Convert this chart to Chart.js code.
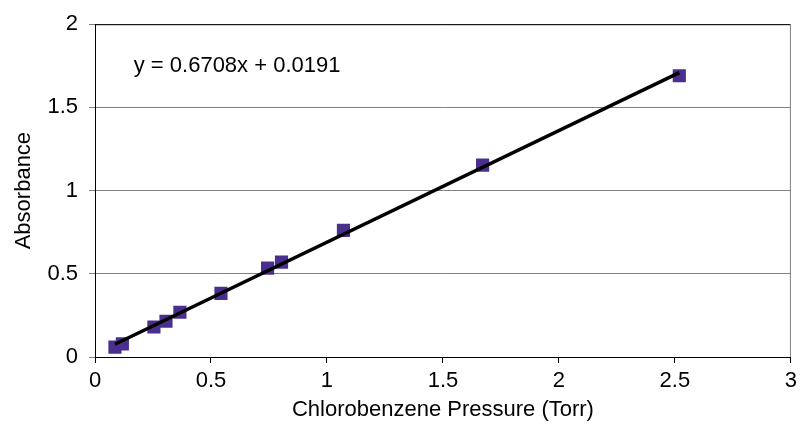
<!DOCTYPE html>
<html>
<head>
<meta charset="utf-8">
<title>Absorbance vs Chlorobenzene Pressure</title>
<script src="https://cdn.jsdelivr.net/npm/chart.js@4.4.1/dist/chart.umd.min.js"></script>
<style>
  html, body { margin: 0; padding: 0; background: #fff; }
  #wrap { width: 802px; height: 427px; position: relative; }
</style>
</head>
<body>
<div id="wrap"><canvas id="chart"></canvas></div>
<script>
// measured points
const pressure = [0.086, 0.118, 0.254, 0.306, 0.366, 0.543, 0.744, 0.804, 1.071, 1.671, 2.519];
const absorbance = [0.059, 0.079, 0.180, 0.215, 0.269, 0.382, 0.534, 0.570, 0.761, 1.153, 1.690];

// linear fit y = slope * x + intercept
const slope = 0.6708;
const intercept = 0.0191;

const xTicks = [0, 0.5, 1, 1.5, 2, 2.5, 3];
const yTicks = [0, 0.5, 1, 1.5, 2];

const FONT = 'Liberation Sans, Arial, sans-serif';
const FONT_SIZE = 22;

const points = pressure.map((p, i) => ({ x: p, y: absorbance[i] }));
const xMin = Math.min(...pressure), xMax = Math.max(...pressure);
const fitLine = [xMin, xMax].map(x => ({ x: x, y: slope * x + intercept }));

// frame on top/right + equation text
const framePlugin = {
    id: 'frame',
    beforeDatasetsDraw(chart) {
        const { ctx, chartArea: a } = chart;
        ctx.save();
        ctx.lineWidth = 1;
        ctx.strokeStyle = '#000';
        ctx.beginPath();
        ctx.moveTo(a.left, a.top + 0.5);
        ctx.lineTo(a.right, a.top + 0.5);
        ctx.stroke();
        ctx.strokeStyle = '#808080';
        ctx.beginPath();
        ctx.moveTo(a.right - 0.5, a.top);
        ctx.lineTo(a.right - 0.5, a.bottom);
        ctx.stroke();
        ctx.restore();
    },
    afterDraw(chart) {
        const { ctx, scales } = chart;
        const txt = 'y = ' + slope.toFixed(4) + 'x + ' + intercept.toFixed(4);
        ctx.save();
        ctx.font = FONT_SIZE + 'px ' + FONT;
        ctx.fillStyle = '#000';
        ctx.textAlign = 'left';
        ctx.textBaseline = 'middle';
        ctx.fillText(txt, scales.x.getPixelForValue(0.167), scales.y.getPixelForValue(1.75));
        ctx.restore();
    }
};

const plain = v => String(v);

new Chart(document.getElementById('chart'), {
    type: 'scatter',
    data: {
        datasets: [
            {
                type: 'line',
                label: 'Linear fit',
                data: fitLine,
                borderColor: '#000',
                borderWidth: 3.5,
                pointRadius: 0,
                fill: false,
                order: 0
            },
            {
                label: 'Absorbance',
                data: points,
                pointStyle: 'rect',
                pointRadius: 9.3,
                pointBorderWidth: 0,
                backgroundColor: '#4b2f8f',
                borderColor: '#4b2f8f',
                order: 1
            }
        ]
    },
    options: {
        responsive: true,
        maintainAspectRatio: false,
        animation: false,
        layout: { padding: { top: 20, right: 9, left: 0, bottom: 0 } },
        plugins: {
            legend: { display: false },
            tooltip: { enabled: false }
        },
        scales: {
            x: {
                type: 'linear',
                min: 0,
                max: 3,
                afterFit: s => { s.height = 70; },
                afterBuildTicks: s => { s.ticks = xTicks.map(v => ({ value: v })); },
                grid: { drawOnChartArea: false, drawTicks: true, tickLength: 6, color: '#000' },
                border: { display: true, color: '#000', width: 1 },
                ticks: { color: '#000', padding: 5, maxRotation: 0, callback: plain, font: { family: FONT, size: FONT_SIZE } },
                title: {
                    display: true,
                    text: 'Chlorobenzene Pressure (Torr)',
                    color: '#000',
                    font: { family: FONT, size: FONT_SIZE },
                    padding: { top: 0, bottom: 4 }
                }
            },
            y: {
                type: 'linear',
                min: 0,
                max: 2,
                afterFit: s => { s.width = 95; },
                afterBuildTicks: s => { s.ticks = yTicks.map(v => ({ value: v })); },
                grid: { drawOnChartArea: true, drawTicks: true, tickLength: 6, color: '#808080' },
                border: { display: true, color: '#000', width: 1 },
                ticks: { color: '#000', padding: 11, callback: plain, font: { family: FONT, size: FONT_SIZE } },
                title: {
                    display: true,
                    text: 'Absorbance',
                    color: '#000',
                    font: { family: FONT, size: FONT_SIZE },
                    padding: { top: 11, bottom: 0 }
                }
            }
        }
    },
    plugins: [framePlugin]
});
</script>
</body>
</html>
